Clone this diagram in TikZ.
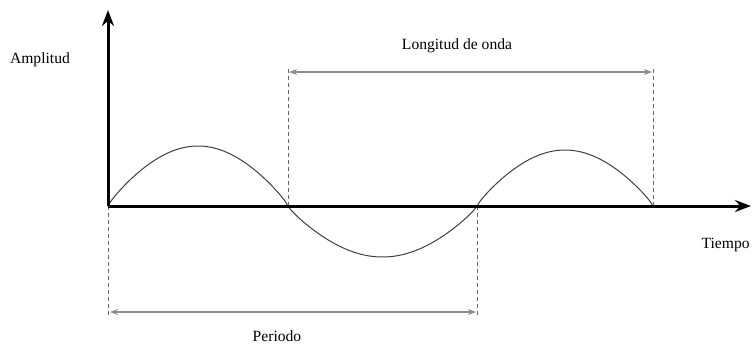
\documentclass[tikz,border=0pt]{standalone}
\usepackage{fontspec}
\setmainfont{Liberation Serif}
\usetikzlibrary{arrows.meta,positioning,calc}
\tikzset{
  ax_line/.style={line width=1.5pt,-{Stealth[length=8pt,width=6pt]}},
  wave/.style={line width=0.5pt,draw=black!75},
  guide/.style={dashed,dash pattern=on 2pt off 1.5pt,line width=0.35pt,draw=black!60},
  dim_arr/.style={{Stealth[length=4pt,width=3pt,open]}-{Stealth[length=4pt,width=3pt,open]},line width=0.6pt,draw=black!45},
  lbl/.style={font=\fontsize{7.8}{9}\selectfont,inner sep=0pt},
}
\begin{document}
\begin{tikzpicture}[x=0.5pt,y=-0.5pt]
  \useasboundingbox (0,0) rectangle (752,344);
  % axes
  \coordinate (O) at (108,206);
  \coordinate (ytop) at (108,10);
  \coordinate (xend) at (751,206);
  % zero crossings
  \coordinate (c1) at (288,206);
  \coordinate (c2) at (477,206);
  \coordinate (c3) at (653,206);
  % wave
  \draw[wave] plot[domain=108:288,samples=80] (\x,{206-60*pow(abs(sin((\x-108))),0.85)});
  \draw[wave] plot[domain=288:477,samples=80] (\x,{206+51*pow(abs(sin((\x-288)/189*180)),0.85)});
  \draw[wave] plot[domain=477:653,samples=80] (\x,{206-56*pow(abs(sin((\x-477)/176*180)),0.85)});
  % guides
  \coordinate (g0) at (108,318);
  \coordinate (g1) at (288,66);
  \coordinate (g2) at (477,318);
  \coordinate (g3) at (653,66);
  \draw[guide] (O) -- (g0);
  \draw[guide] (c1) -- (g1);
  \draw[guide] (c2) -- (g2);
  \draw[guide] (c3) -- (g3);
  % dimension arrows
  \coordinate (wl_a) at (289,72);
  \coordinate (wl_b) at (652,72);
  \coordinate (pe_a) at (110,312);
  \coordinate (pe_b) at (476,312);
  \draw[dim_arr] (wl_a) -- (wl_b);
  \draw[dim_arr] (pe_a) -- (pe_b);
  \draw[ax_line] (O) -- (ytop);
  \draw[ax_line] (O) -- (xend);
  % labels
  \node (amp) [lbl] at (40,60) {Amplitud};
  \node (tiempo) [lbl,anchor=east] at (750,245) {Tiempo};
  \node (longitud) [lbl] at (457,46) {Longitud de onda};
  \node (periodo) [lbl] at (277,336) {Periodo};
\end{tikzpicture}
\end{document}
